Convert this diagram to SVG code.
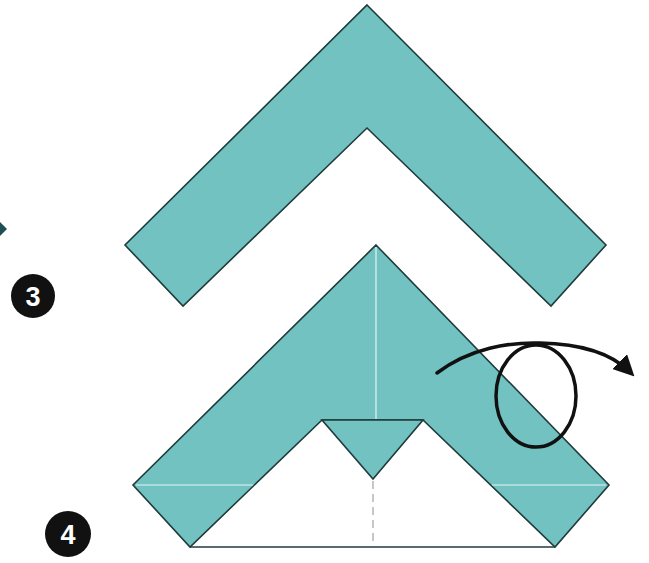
<svg xmlns="http://www.w3.org/2000/svg" width="649" height="563" viewBox="0 0 649 563">
<defs>
<style>
.paper{fill:#72c2c2;stroke:#1f3b3b;stroke-width:1.6;stroke-linejoin:miter}
.crease{stroke:#e6f4f4;stroke-width:1.2;fill:none}
.badge{fill:#111}
.num{fill:#fff;font-family:"Liberation Sans",Arial,sans-serif;font-weight:bold;font-size:27px;text-anchor:middle}
.arrow{fill:none;stroke:#111;stroke-width:3.5;stroke-linecap:round}
</style>
<marker id="head" viewBox="0 0 10 10" refX="7" refY="5" markerWidth="6" markerHeight="6" orient="auto" markerUnits="strokeWidth">
<path d="M0,0 L10,5 L0,10 z" fill="#111"/>
</marker>
</defs>
<rect width="649" height="563" fill="#fff"/>
<g id="prev-arrow-tip"><path d="M0,222 L7,229 L0,236 z" fill="#1f4f55"/></g>
<g id="step3">
<polygon class="paper" points="367,5 606,245 551,306 367,128 183,306 125,245"/>
</g>
<g id="badge3"><circle class="badge" cx="33" cy="296" r="22"/><text class="num" x="33" y="306">3</text></g>
<g id="step4">
<polygon class="paper" points="376,245 609,485 555,547 423,420 322,420 190,547 133,485"/>
<line x1="190" y1="547" x2="555" y2="547" stroke="#1f3b3b" stroke-width="1.6"/>
<polygon class="paper" points="322,420 423,420 373,479"/>
<line class="crease" x1="376" y1="247" x2="376" y2="419"/>
<line class="crease" x1="136" y1="485" x2="253" y2="485"/>
<line class="crease" x1="492" y1="485" x2="606" y2="485"/>
<line x1="373" y1="481" x2="373" y2="545" stroke="#aaa" stroke-width="1.3" stroke-dasharray="8,5"/>
</g>
<g id="badge4"><circle class="badge" cx="68" cy="534" r="23"/><text class="num" x="68" y="544">4</text></g>
<g id="connectors">
<ellipse cx="536" cy="396" rx="40" ry="51" fill="none" stroke="#111" stroke-width="3.5"/>
<path class="arrow" d="M437,373 C470,348 510,342 540,343 C580,344 610,352 630,372" marker-end="url(#head)"/>
</g>
</svg>
